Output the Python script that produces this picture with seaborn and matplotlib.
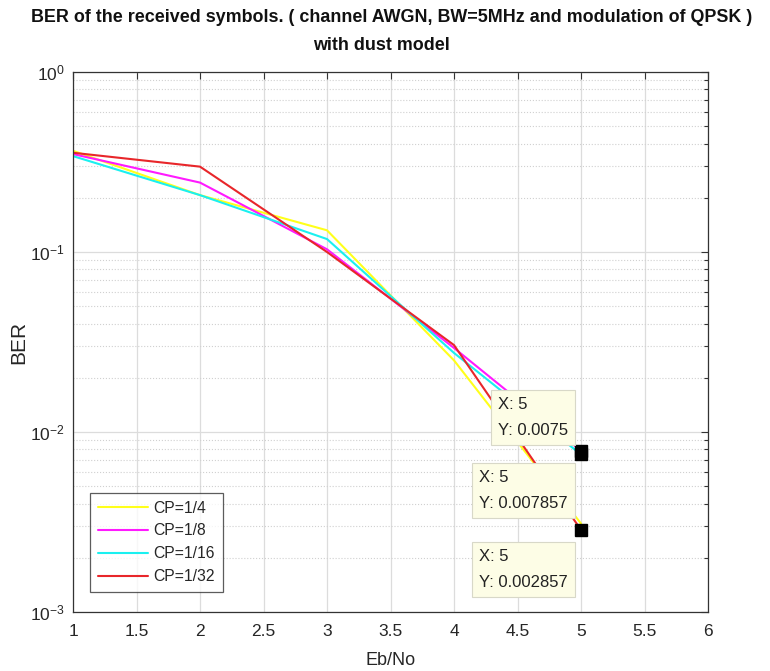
import numpy as np
import pandas as pd
import seaborn as sns
import matplotlib
matplotlib.use("Agg")
import matplotlib.pyplot as plt
from matplotlib.ticker import LogLocator, NullFormatter, FixedLocator

# ---- data ----
ebno = [1, 2, 3, 4, 5]
ber_cp4 = [0.365, 0.207, 0.132, 0.025, 0.0031]
ber_cp8 = [0.350, 0.243, 0.1035, 0.0293, 0.007857]
ber_cp16 = [0.341, 0.207, 0.118, 0.0275, 0.0075]
ber_cp32 = [0.356, 0.298, 0.100, 0.0304, 0.002857]
series_names = ["CP=1/4", "CP=1/8", "CP=1/16", "CP=1/32"]
x_ticks = [1, 1.5, 2, 2.5, 3, 3.5, 4, 4.5, 5, 5.5, 6]
tips_y = [0.0075, 0.007857, 0.002857]
tips_x = [5, 5, 5]

sns.set_style("white")
plt.rcParams['font.family'] = ['Liberation Sans', 'DejaVu Sans']

df = pd.concat([
    pd.DataFrame({"Eb/No": ebno, "BER": vals, "CP": name})
    for name, vals in zip(series_names, [ber_cp4, ber_cp8, ber_cp16, ber_cp32])
])

palette = {"CP=1/4": "#ffff1a", "CP=1/8": "#ff1aff", "CP=1/16": "#1af0f0", "CP=1/32": "#e8262a"}

fig = plt.figure(figsize=(7.7, 6.71), dpi=100)
ax = fig.add_axes([73/770, 1-612/671, (708-73)/770, (612-72)/671])

sns.lineplot(data=df, x="Eb/No", y="BER", hue="CP", palette=palette,
             linewidth=1.5, ax=ax, legend=True, sort=False, estimator=None)

ax.set_yscale("log")
ax.set_xlim(1, 6)
ax.set_ylim(1e-3, 1)
ax.xaxis.set_major_locator(FixedLocator(x_ticks))
ax.set_xticklabels([f"{t:g}" for t in x_ticks])
ax.yaxis.set_major_locator(LogLocator(base=10, numticks=10))
ax.yaxis.set_minor_locator(LogLocator(base=10, subs=np.arange(2, 10), numticks=20))
ax.yaxis.set_minor_formatter(NullFormatter())

ax.grid(True, which="major", axis="both", color="#dcdcdc", linewidth=0.9, linestyle="-")
ax.grid(True, which="minor", axis="y", color="#d0d0d0", linewidth=0.8, linestyle=":")
ax.set_axisbelow(True)

ax.tick_params(which="both", direction="in", top=True, right=True, colors="#333333",
               labelcolor="#262626", labelsize=12.5)
ax.tick_params(axis="x", which="major", pad=9)
ax.tick_params(axis="y", which="major", pad=6)
ax.tick_params(which="major", length=5, width=0.8)
ax.tick_params(which="minor", length=3, width=0.8)
for s in ax.spines.values():
    s.set_color("#333333")
    s.set_linewidth(0.9)

ax.set_xlabel("Eb/No", fontsize=13, color="#262626", labelpad=9)
ax.set_ylabel("BER", fontsize=15, color="#262626", labelpad=1)

fig.text(0.508, 1-17/671, "BER of the received symbols. ( channel AWGN, BW=5MHz and modulation of QPSK )",
         ha="center", va="center", fontsize=12.9, fontweight="bold", color="#111111")
fig.text(0.495, 1-45/671, "with dust model",
         ha="center", va="center", fontsize=12.9, fontweight="bold", color="#111111")

leg = ax.legend(loc="lower left", bbox_to_anchor=(17/635, 20/540), fontsize=11.3, frameon=True,
                fancybox=False, edgecolor="#333333", handlelength=3.2, handletextpad=0.35,
                borderpad=0.5, labelspacing=0.5, borderaxespad=0, title=None)
leg.get_frame().set_linewidth(0.9)

# data tips
ax.plot(tips_x, tips_y, linestyle="none", marker="s", markersize=8, color="black", zorder=6)
offsets = [((-83, 16), "left", "bottom"), ((-102, -19), "left", "top"), ((-102, -19), "left", "top")]
for xv, yv, (off, ha, va) in zip(tips_x, tips_y, offsets):
    ax.annotate(f"X: {xv:g}\nY: {yv:g}", xy=(xv, yv), xytext=off, textcoords="offset pixels",
                ha=ha, va=va, fontsize=12, color="#222222", linespacing=1.95, zorder=7,
                multialignment="left",
                bbox=dict(boxstyle="square,pad=0.42", fc="#fdfde6", ec="#d8d8c8", lw=0.8))

fig.savefig("out.png", dpi=100)
